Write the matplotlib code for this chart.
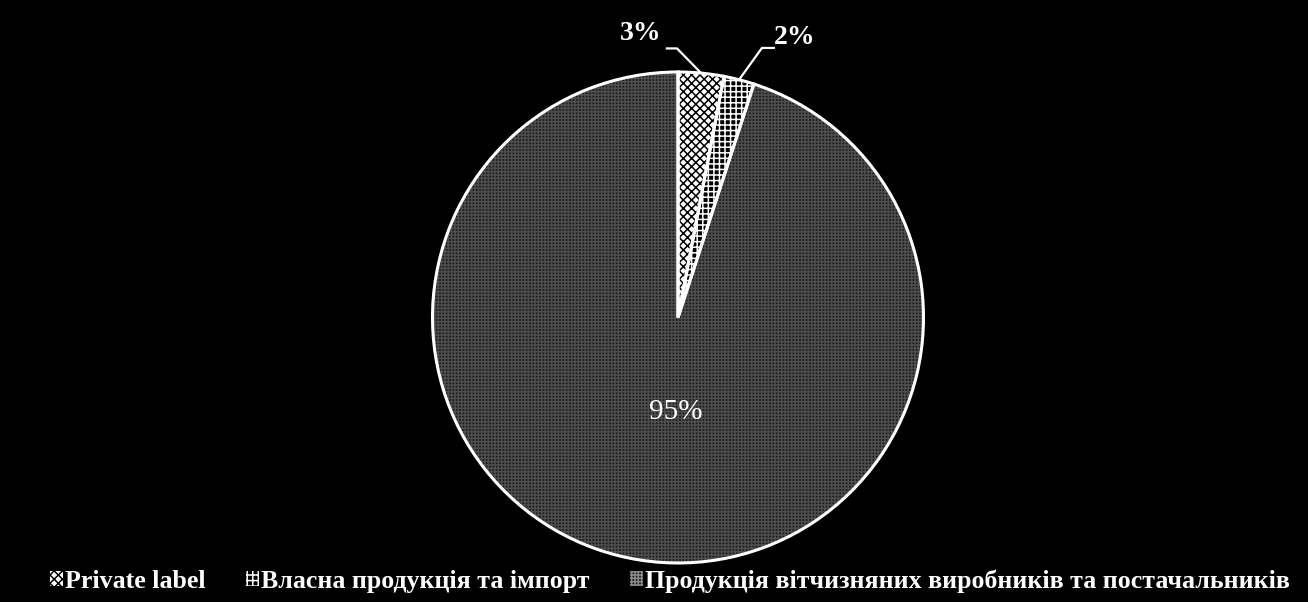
import matplotlib
matplotlib.use("Agg")
import matplotlib.pyplot as plt
from matplotlib.patches import Rectangle
import numpy as np

categories = ["Private label",
              "Власна продукція та імпорт",
              "Продукція вітчизняних виробників та постачальників"]
values = [3, 2, 95]
pct_labels = ["3%", "2%", "95%"]

face_colors = ["white", "black", "#1a1a1a"]
hatch_colors = ["black", "white", "#4e4e4e"]
hatches = ["xxxx", "+++", "+++++"]

plt.rcParams['font.family'] = ['Liberation Serif', 'DejaVu Serif']
plt.rcParams['hatch.linewidth'] = 1.1

W, H = 1308, 602
fig = plt.figure(figsize=(W / 100, H / 100), dpi=100, facecolor="black")
cx, cy, r = 678, 317.5, 245.5
ax = fig.add_axes([(cx - r) / W, (H - cy - r) / H, 2 * r / W, 2 * r / H])
ax.set_facecolor("black")

# hatched fill layer
wedges, _ = ax.pie(values, startangle=90, counterclock=False, radius=1,
                   center=(0, 0), frame=True)
for w, fc, hc, h in zip(wedges, face_colors, hatch_colors, hatches):
    w.set_facecolor(fc)
    w.set_edgecolor(hc)
    w.set_hatch(h)
    w.set_linewidth(0)
# white outline layer
ax.pie(values, startangle=90, counterclock=False, radius=1,
       center=(0, 0), frame=True,
       wedgeprops=dict(facecolor="none", edgecolor="white", linewidth=2.2))
ax.set_xlim(-1, 1)
ax.set_ylim(-1, 1)
ax.set_aspect("equal")
ax.axis("off")

# percentage labels
total = sum(values)
angles = []
start = 90.0
for v in values:
    span = 360.0 * v / total
    angles.append(np.deg2rad(start - span / 2))
    start -= span

small_cfg = {0: dict(text=(-0.15, 1.155), elbow=(-0.004, 1.096), end=(-0.05, 1.096)),
             1: dict(text=(0.477, 1.14), elbow=(0.342, 1.098), end=(0.395, 1.098))}
for i, cfg in small_cfg.items():
    a = angles[i]
    ex, ey = np.cos(a), np.sin(a)
    ax.plot([ex, cfg["elbow"][0], cfg["end"][0]], [ey, cfg["elbow"][1], cfg["end"][1]],
            color="white", lw=1.6, clip_on=False, solid_capstyle="butt")
    ax.text(cfg["text"][0], cfg["text"][1], pct_labels[i], color="white",
            fontsize=20, fontweight="bold", ha="center", va="center")

a = angles[2]
ax.text(0.39 * np.cos(a) + 0.05, 0.39 * np.sin(a), pct_labels[2], color="white",
        fontsize=21, ha="center", va="center")

# legend
handles = [Rectangle((0, 0), 1, 1, facecolor=fc, edgecolor=hc, hatch=h, linewidth=0)
           for fc, hc, h in zip(face_colors, ["black", "white", "#8a8a8a"], hatches)]
leg = fig.legend(handles, categories, loc="center", bbox_to_anchor=(670 / W, 1 - 581 / H),
                 ncol=3, frameon=False,
                 prop=dict(weight="bold", size=18.6),
                 handlelength=0.5, handleheight=0.5, handletextpad=0.1,
                 columnspacing=1.55, labelcolor="white")

fig.savefig("out.png", dpi=100, facecolor="black")
